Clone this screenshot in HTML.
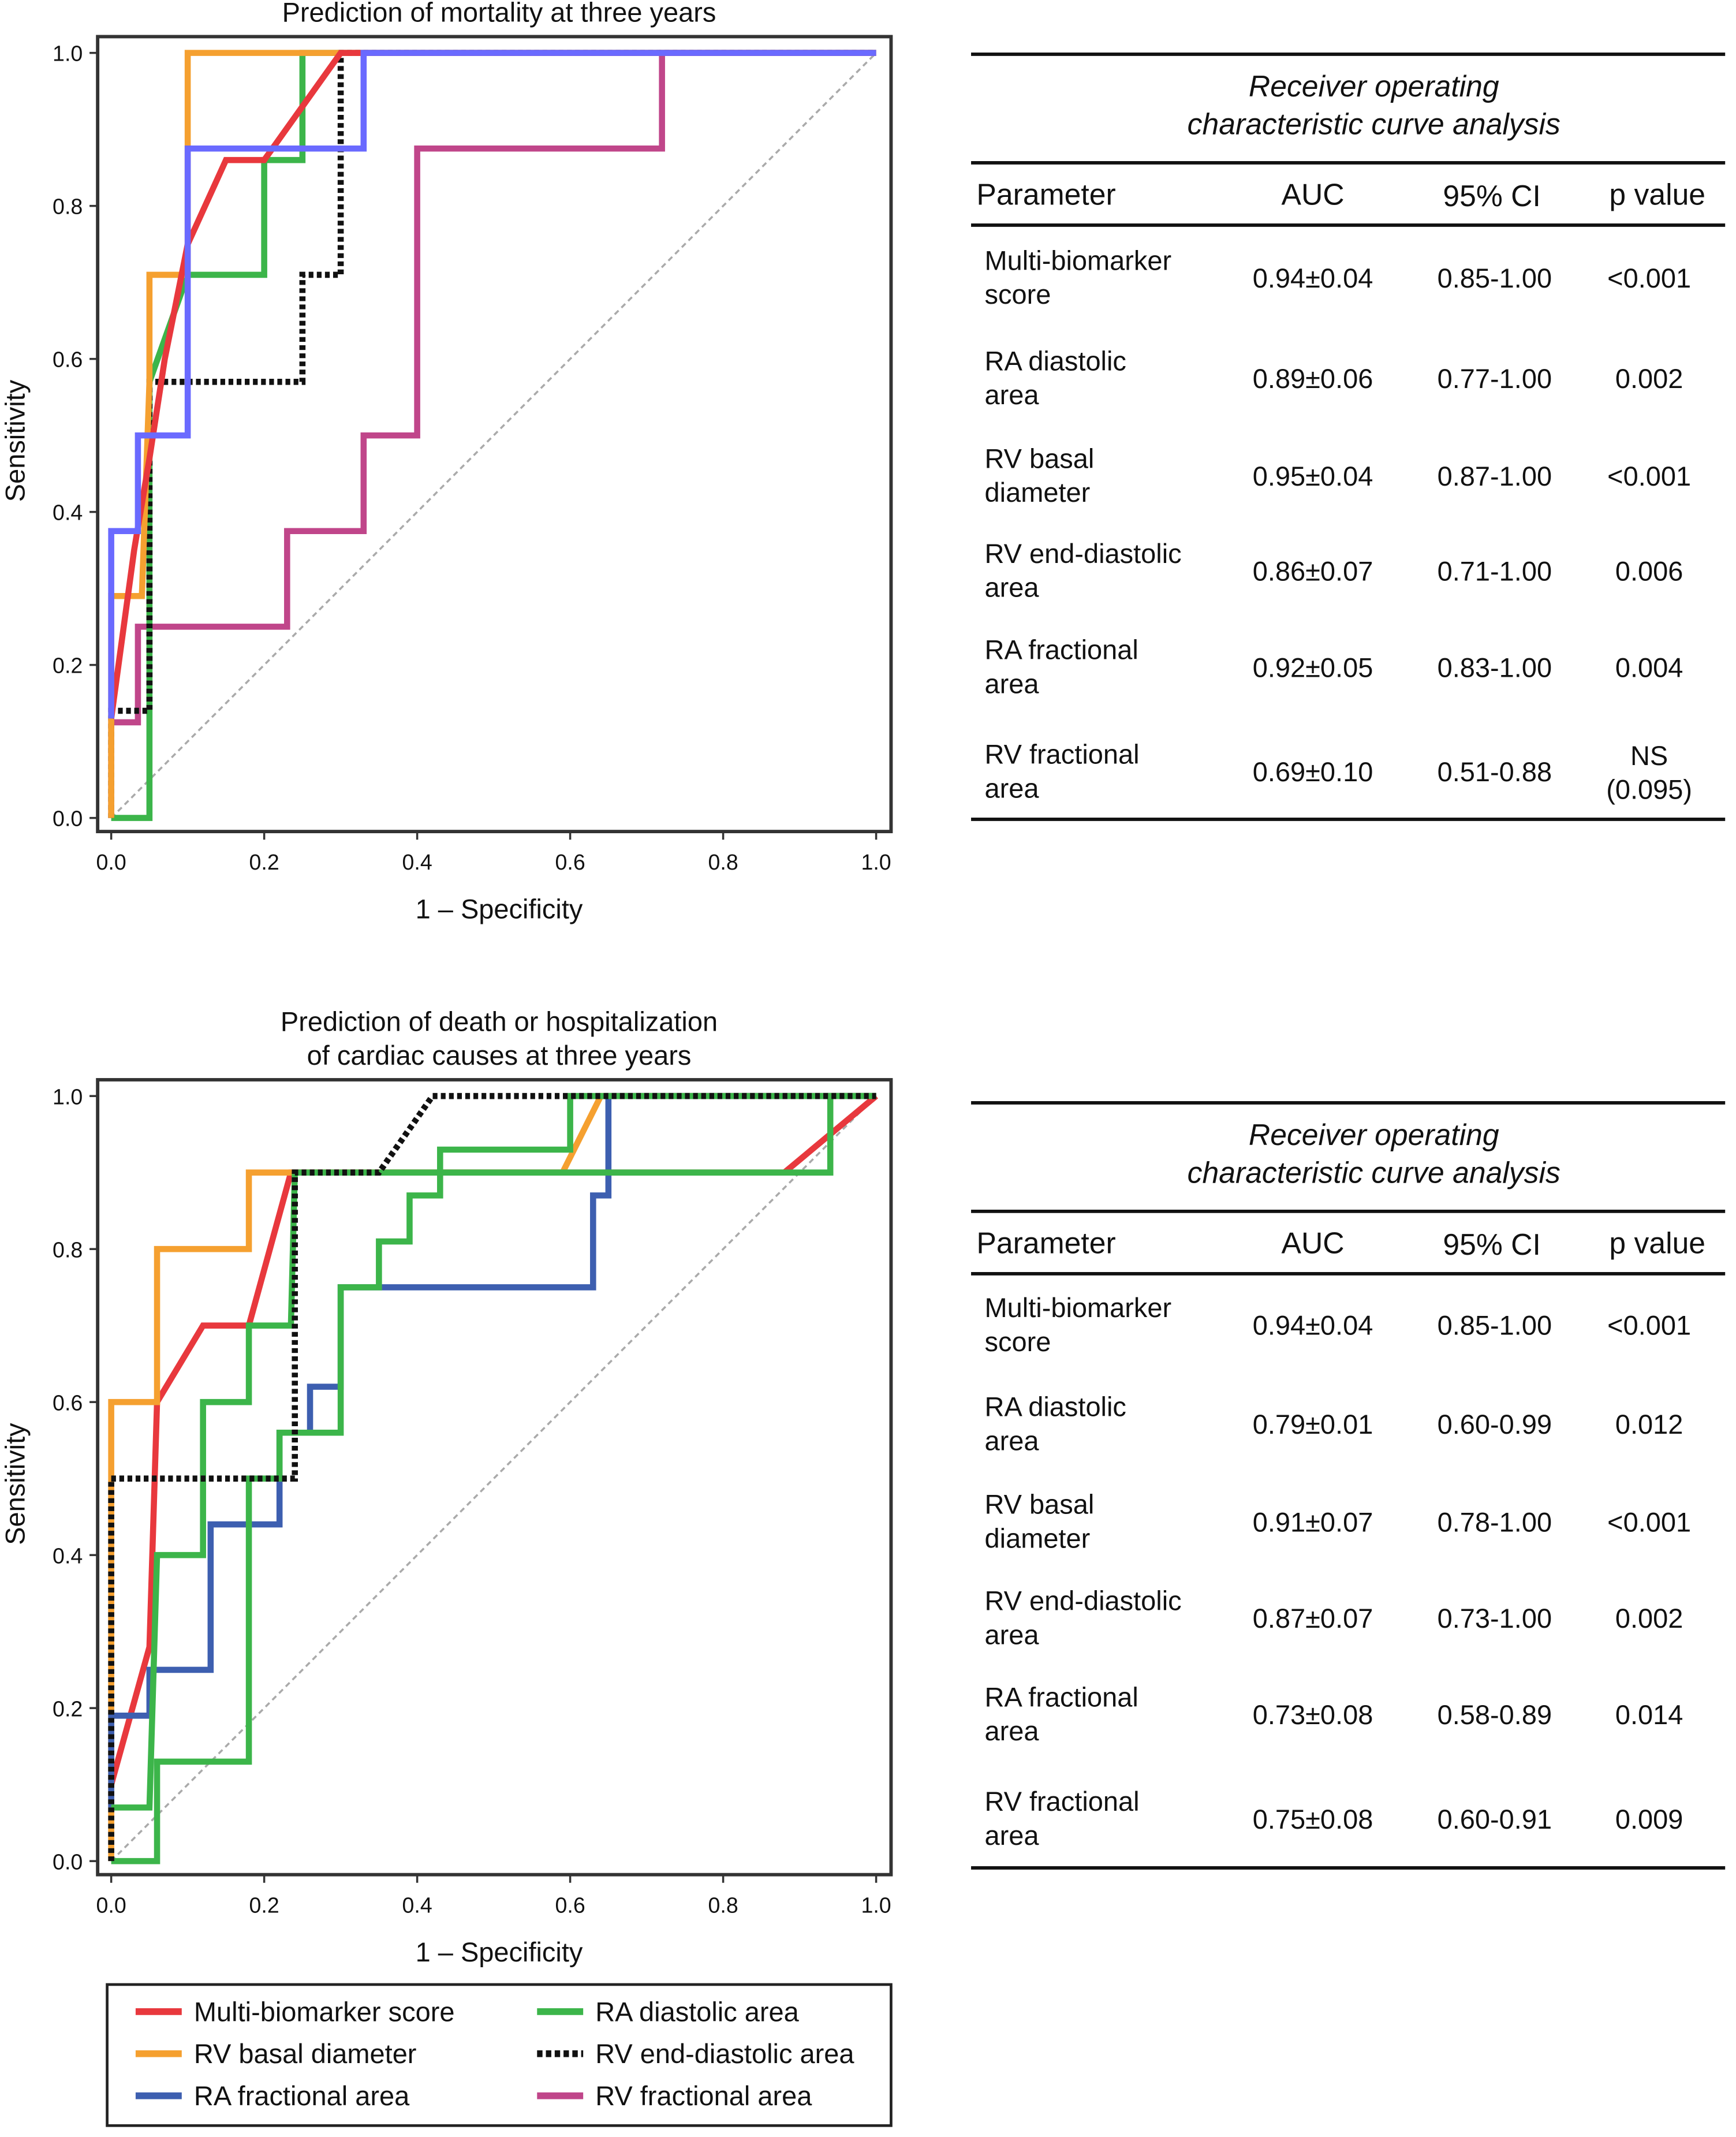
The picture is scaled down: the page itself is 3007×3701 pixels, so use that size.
<!DOCTYPE html>
<html><head><meta charset="utf-8"><style>
html,body{margin:0;padding:0;background:#fff}
svg{display:block}
text{font-family:"Liberation Sans",Arial,sans-serif;fill:#111}
</style></head><body>
<svg id="fig" width="3007" height="3701" viewBox="0 0 1280 1575.4" preserveAspectRatio="none" xmlns="http://www.w3.org/2000/svg">
<g id="plots"></g>
<g id="tables"></g>
<g>
<rect x="79" y="1463" width="578" height="104" fill="none" stroke="#222" stroke-width="2"/>
<line x1="100" y1="1483" x2="134" y2="1483" stroke="#e8383d" stroke-width="5"/><text x="143" y="1490" font-size="20">Multi-biomarker score</text>
<line x1="100" y1="1514" x2="134" y2="1514" stroke="#f5a030" stroke-width="5"/><text x="143" y="1521" font-size="20">RV basal diameter</text>
<line x1="100" y1="1545" x2="134" y2="1545" stroke="#3d5fb0" stroke-width="5"/><text x="143" y="1552" font-size="20">RA fractional area</text>
<line x1="396" y1="1483" x2="430" y2="1483" stroke="#3cb54a" stroke-width="5"/><text x="439" y="1490" font-size="20">RA diastolic area</text>
<line x1="396" y1="1514" x2="430" y2="1514" stroke="#111" stroke-width="5" stroke-dasharray="4,2.5"/><text x="439" y="1521" font-size="20">RV end-diastolic area</text>
<line x1="396" y1="1545" x2="430" y2="1545" stroke="#c0468a" stroke-width="5"/><text x="439" y="1552" font-size="20">RV fractional area</text>
</g>
</svg>
<script>
const ticks=[0,0.2,0.4,0.6,0.8,1.0];
const topMulti=[[0,0.13],[0.03,0.35],[0.05,0.47],[0.07,0.6],[0.1,0.75],[0.15,0.86],[0.2,0.86],[0.3,1],[1,1]];
const topRVbasal=[[0,0],[0,0.29],[0.04,0.29],[0.05,0.57],[0.05,0.71],[0.1,0.71],[0.1,1],[1,1]];
const topRAdiast=[[0,0],[0.05,0],[0.05,0.57],[0.1,0.71],[0.2,0.71],[0.2,0.86],[0.25,0.86],[0.25,1],[1,1]];
const topRVend=[[0,0],[0,0.14],[0.05,0.14],[0.05,0.57],[0.25,0.57],[0.25,0.71],[0.3,0.71],[0.3,1],[1,1]];
const topRAfrac=[[0,0.13],[0,0.375],[0.035,0.375],[0.035,0.5],[0.1,0.5],[0.1,0.875],[0.33,0.875],[0.33,1],[1,1]];
const topRVfrac=[[0,0],[0,0.125],[0.035,0.125],[0.035,0.25],[0.23,0.25],[0.23,0.375],[0.33,0.375],[0.33,0.5],[0.4,0.5],[0.4,0.875],[0.72,0.875],[0.72,1],[1,1]];
const botMulti=[[0,0.1],[0.05,0.28],[0.06,0.6],[0.12,0.7],[0.18,0.7],[0.235,0.9],[0.88,0.9],[1,1]];
const botRVbasal=[[0,0],[0,0.6],[0.06,0.6],[0.06,0.8],[0.18,0.8],[0.18,0.9],[0.59,0.9],[0.64,1],[1,1]];
const botRVend=[[0,0],[0,0.5],[0.24,0.5],[0.24,0.9],[0.35,0.9],[0.42,1],[1,1]];
const botRAfrac=[[0,0.07],[0,0.19],[0.05,0.19],[0.05,0.25],[0.13,0.25],[0.13,0.44],[0.22,0.44],[0.22,0.56],[0.26,0.56],[0.26,0.62],[0.3,0.62],[0.3,0.75],[0.63,0.75],[0.63,0.87],[0.65,0.87],[0.65,1],[1,1]];
const botRAdiastA=[[0,0],[0.06,0],[0.06,0.13],[0.18,0.13],[0.18,0.5],[0.22,0.5],[0.22,0.56],[0.3,0.56],[0.3,0.75],[0.35,0.75],[0.35,0.81],[0.39,0.81],[0.39,0.87],[0.43,0.87],[0.43,0.93],[0.6,0.93],[0.6,1],[1,1]];
const botRAdiastB=[[0,0.07],[0.05,0.07],[0.06,0.4],[0.12,0.4],[0.12,0.6],[0.18,0.6],[0.18,0.7],[0.235,0.7],[0.24,0.9],[0.94,0.9],[0.94,1],[1,1]];
const table1=[["Multi-biomarker","score","0.94±0.04","0.85-1.00","<0.001"],["RA diastolic","area","0.89±0.06","0.77-1.00","0.002"],["RV basal","diameter","0.95±0.04","0.87-1.00","<0.001"],["RV end-diastolic","area","0.86±0.07","0.71-1.00","0.006"],["RA fractional","area","0.92±0.05","0.83-1.00","0.004"],["RV fractional","area","0.69±0.10","0.51-0.88","NS|(0.095)"]];
const table2=[["Multi-biomarker","score","0.94±0.04","0.85-1.00","<0.001"],["RA diastolic","area","0.79±0.01","0.60-0.99","0.012"],["RV basal","diameter","0.91±0.07","0.78-1.00","<0.001"],["RV end-diastolic","area","0.87±0.07","0.73-1.00","0.002"],["RA fractional","area","0.73±0.08","0.58-0.89","0.014"],["RV fractional","area","0.75±0.08","0.60-0.91","0.009"]];
const NS="http://www.w3.org/2000/svg";
function mk(p,tag,a,txt){const e=document.createElementNS(NS,tag);for(const k in a)e.setAttribute(k,a[k]);if(txt!==undefined)e.textContent=txt;p.appendChild(e);return e;}
function plot(y0,titles,series,name){
  const g=mk(document.getElementById('plots'),'g',{});
  
  
  const X=v=>82+v*564, Y=v=>y0+564-v*564;
  titles.forEach((t,i)=>{const e=mk(g,'text',{x:368,y:y0-23-(titles.length-1-i)*25,'font-size':20,'text-anchor':'middle'},t);
    
    });
  mk(g,'rect',{x:72,y:y0-12,width:585,height:586,fill:'none',stroke:'#333','stroke-width':2.5});
  mk(g,'line',{x1:X(0),y1:Y(0),x2:X(1),y2:Y(1),stroke:'#aaa','stroke-width':1.5,'stroke-dasharray':'4,3'});
  ticks.forEach(t=>{
    mk(g,'line',{x1:66,y1:Y(t),x2:72,y2:Y(t),stroke:'#333','stroke-width':1.5});
    const yl=mk(g,'text',{x:61,y:Y(t)+6,'font-size':16,'text-anchor':'end'},t.toFixed(1));
    
    
    mk(g,'line',{x1:X(t),y1:y0+574,x2:X(t),y2:y0+580,stroke:'#333','stroke-width':1.5});
    const xl=mk(g,'text',{x:X(t),y:y0+602,'font-size':16,'text-anchor':'middle'},t.toFixed(1));
    
    
  });
  const xt=mk(g,'text',{x:368,y:y0+638,'font-size':20,'text-anchor':'middle'},'1 – Specificity');
  
  
  const yt=mk(g,'text',{x:0,y:0,'font-size':20,'text-anchor':'middle',transform:`translate(18,${y0+286}) rotate(-90)`},'Sensitivity');
  
  
  series.forEach(s=>{
    const d=s.data.map((p,i)=>(i?'L':'M')+X(p[0]).toFixed(1)+','+Y(p[1]).toFixed(1)).join('');
    const a={d:d,fill:'none',stroke:s.c,'stroke-width':4.5,'stroke-linejoin':'miter'};
    if(s.dash)a['stroke-dasharray']='3.5,2.5';
    const e=mk(g,'path',a);
    
    
  });
}
plot(39,['Prediction of mortality at three years'],[
 {data:topRVfrac,c:'#c0468a',n:'rv-fractional-area-curve'},
 {data:topRAdiast,c:'#3cb54a',n:'ra-diastolic-area-curve'},
 {data:topRVend,c:'#111',dash:1,n:'rv-end-diastolic-area-curve'},
 {data:topRVbasal,c:'#f5a030',n:'rv-basal-diameter-curve'},
 {data:topMulti,c:'#e8383d',n:'multi-biomarker-curve'},
 {data:topRAfrac,c:'#6a6aff',n:'ra-fractional-area-curve'}],'top-roc-chart');
plot(808,['Prediction of death or hospitalization','of cardiac causes at three years'],[
 {data:botMulti,c:'#e8383d',n:'multi-biomarker-curve'},
 {data:botRVbasal,c:'#f5a030',n:'rv-basal-diameter-curve'},
 {data:botRAfrac,c:'#3d5fb0',n:'ra-fractional-area-curve'},
 {data:botRAdiastB,c:'#3cb54a',n:'ra-diastolic-area-curve'},
 {data:botRAdiastA,c:'#3cb54a',n:'rv-fractional-area-curve'},
 {data:botRVend,c:'#111',dash:1,n:'rv-end-diastolic-area-curve'}],'bottom-roc-chart');
function table(top,rows,rowYs,name){
  const g=mk(document.getElementById('tables'),'g',{});
  
  
  const L=716,R=1272;
  [[top,2.5],[top+80,2.5],[top+126,2.5],[top+564,2.5]].forEach(r=>mk(g,'line',{x1:L,x2:R,y1:r[0],y2:r[0],stroke:'#111','stroke-width':r[1]}));
  mk(g,'text',{x:1013,y:top+31,'font-size':22,'font-style':'italic','text-anchor':'middle'},'Receiver operating');
  mk(g,'text',{x:1013,y:top+59,'font-size':22,'font-style':'italic','text-anchor':'middle'},'characteristic curve analysis');
  const hy=top+111;
  mk(g,'text',{x:720,y:hy,'font-size':22},'Parameter');
  mk(g,'text',{x:968,y:hy,'font-size':22,'text-anchor':'middle'},'AUC');
  mk(g,'text',{x:1100,y:hy+1,'font-size':22,'text-anchor':'middle'},'95% CI');
  mk(g,'text',{x:1222,y:hy,'font-size':22,'text-anchor':'middle'},'p value');
  rows.forEach((r,i)=>{
    const v=top+rowYs[i];
    const rg=mk(g,'g',{});
    
    
    mk(rg,'text',{x:726,y:v-5,'font-size':20},r[0]);
    mk(rg,'text',{x:726,y:v+20,'font-size':20},r[1]);
    mk(rg,'text',{x:968,y:v+8,'font-size':20,'text-anchor':'middle'},r[2]);
    mk(rg,'text',{x:1102,y:v+8,'font-size':20,'text-anchor':'middle'},r[3]);
    const p=r[4].split('|');
    if(p.length>1){mk(rg,'text',{x:1216,y:v-4,'font-size':20,'text-anchor':'middle'},p[0]);mk(rg,'text',{x:1216,y:v+21,'font-size':20,'text-anchor':'middle'},p[1]);}
    else mk(rg,'text',{x:1216,y:v+8,'font-size':20,'text-anchor':'middle'},p[0]);
  });
}
table(40,table1,[164,238,310,380,451,528],'roc-table-mortality');
table(813,table2,[163,236,308,379,450,527],'roc-table-hospitalization');
</script>
</body></html>
